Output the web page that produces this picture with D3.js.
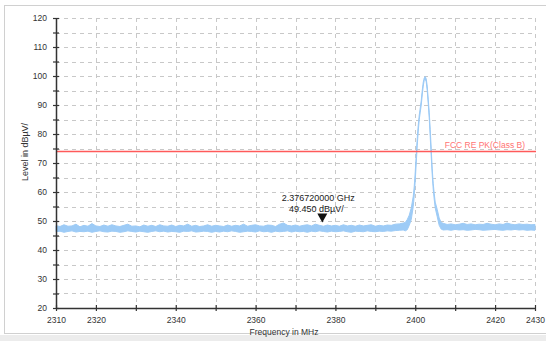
<!DOCTYPE html>
<html>
<head>
<meta charset="utf-8">
<script src="https://cdn.jsdelivr.net/npm/d3@7"></script>
<style>
  html, body { margin: 0; padding: 0; background: #ffffff; }
  svg { display: block; font-family: "Liberation Sans", Arial, sans-serif; }
</style>
</head>
<body>
<svg id="chart" width="546" height="341"></svg>
<script>
// ---- data ----
const xTickValues = [2310, 2320, 2330, 2340, 2350, 2360, 2370, 2380, 2390, 2400, 2410, 2420, 2430];
const xTickLabels = ["2310", "2320", "", "2340", "", "2360", "", "2380", "", "2400", "", "2420", "2430"];
const yTickValues = [20, 25, 30, 35, 40, 45, 50, 55, 60, 65, 70, 75, 80, 85, 90, 95, 100, 105, 110, 115, 120];
const yTickLabels = ["20", "", "30", "", "40", "", "50", "", "60", "", "70", "", "80", "", "90", "", "100", "", "110", "", "120"];

// noise floor, 1 MHz steps 2310..2397
const floorFreq = d3.range(2310, 2398, 1);
const floorMax = [48.4,48.1,48.7,48.2,48.3,48.9,48.0,48.5,48.2,49.1,48.3,48.1,48.6,48.2,48.7,48.3,48.1,48.5,48.9,48.2,
                  48.3,48.0,48.6,48.2,48.5,48.1,48.7,48.3,48.2,48.6,48.1,48.5,48.3,48.9,48.2,48.5,48.1,48.3,48.7,48.2,
                  48.5,48.3,48.1,48.6,48.2,48.5,48.3,48.9,48.2,48.5,48.7,48.3,48.2,48.6,48.5,48.1,48.9,49.3,48.5,48.3,
                  48.6,48.2,48.5,48.7,48.3,48.9,48.5,48.2,48.6,48.3,48.5,48.2,48.7,48.3,48.5,48.2,48.6,48.3,48.5,48.7,
                  48.2,48.5,48.3,48.6,48.5,48.9,49.0,49.3];
const floorMin = [46.3,46.5,46.1,46.4,46.6,46.2,46.4,46.3,46.5,46.1,46.4,46.6,46.3,46.2,46.5,46.4,46.1,46.3,46.6,46.4,
                  46.2,46.5,46.3,46.1,46.4,46.6,46.3,46.5,46.2,46.4,46.3,46.1,46.5,46.4,46.6,46.2,46.3,46.5,46.4,46.1,
                  46.4,46.2,46.5,46.3,46.6,46.4,46.1,46.3,46.5,46.4,46.2,46.6,46.3,46.4,46.1,46.5,46.3,46.4,46.6,46.2,
                  46.5,46.3,46.4,46.1,46.5,46.3,46.6,46.4,46.2,46.5,46.3,46.4,46.6,46.3,46.1,46.5,46.4,46.3,46.6,46.4,
                  46.3,46.5,46.4,46.6,46.5,46.7,46.8,46.9];

// carrier peak region
const peakFreq = [2397.5, 2398, 2398.5, 2399, 2399.5, 2399.75, 2400, 2400.25, 2400.5, 2400.75, 2401, 2401.25, 2401.5, 2401.75,
                  2402, 2402.25, 2402.5, 2402.75, 2403, 2403.25, 2403.5, 2403.75, 2404, 2404.25, 2404.5, 2404.75, 2405, 2405.5, 2406, 2406.5];
const peakMax = [49.5, 50.5, 52, 54.5, 58.5, 62, 67, 73, 78.5, 83, 86.5, 89, 91.5, 95,
                 97.8, 99.3, 99.8, 99, 96.5, 92, 87.5, 81.5, 75, 68, 63, 59.5, 56.5, 54, 51, 49.5];
const peakMin = [46.6, 47, 48.5, 50.5, 55, 59, 64, 70, 76, 81, 85, 87.5, 90, 93.5,
                 96.5, 98.5, 99, 98, 95, 90.5, 85.5, 79, 72.5, 66, 61, 57.5, 54.5, 51.5, 48.5, 47.2];

// upper floor, 1 MHz steps 2407..2430
const upperFreq = d3.range(2407, 2431, 1);
const upperMax = [49.2,48.8,49.0,48.7,48.9,49.2,48.8,49.0,48.7,48.9,48.8,49.2,48.9,48.7,49.0,48.8,49.3,48.9,48.7,49.0,48.8,48.9,48.7,48.8];
const upperMin = [46.9,47.0,46.8,47.1,46.9,47.0,46.8,46.9,47.1,47.0,46.8,46.9,47.0,47.1,46.9,46.8,47.0,46.9,47.1,46.9,47.0,46.8,46.9,46.8];

const limitLevel = 74;
const limitLabel = "FCC RE PK(Class B)";
const markerFreq = 2376.72;
const markerLevel = 49.45;
const markerText1 = "2.376720000 GHz";
const markerText2 = "49.450 dBµV/";
const xTitle = "Frequency in MHz";
const yTitle = "Level in dBµV/";

// ---- build ----
const trace = [];
floorFreq.forEach((f, i) => trace.push({f, hi: floorMax[i], lo: floorMin[i]}));
peakFreq.forEach((f, i) => trace.push({f, hi: peakMax[i], lo: peakMin[i]}));
upperFreq.forEach((f, i) => trace.push({f, hi: upperMax[i], lo: upperMin[i]}));

const svg = d3.select("#chart");
const W = 546, H = 341;

// outer frame
svg.append("rect").attr("x", 0).attr("y", 335).attr("width", W).attr("height", H - 335).attr("fill", "#ececec");
svg.append("rect").attr("x", 4.5).attr("y", 5.5).attr("width", 560).attr("height", 328)
  .attr("fill", "#ffffff").attr("stroke", "#d0d0d0").attr("stroke-width", 1);

const x = d3.scaleLinear().domain([2310, 2430]).range([56, 535]);
const y = d3.scaleLinear().domain([20, 120]).range([308, 18]);

// grid
const g = svg.append("g");
g.selectAll("line.hg").data(yTickValues.filter(v => v > 20)).join("line")
  .attr("x1", x(2310)).attr("x2", x(2430))
  .attr("y1", d => Math.round(y(d)) + 0.5).attr("y2", d => Math.round(y(d)) + 0.5)
  .attr("stroke", "#c8c8c8").attr("stroke-width", 1).attr("stroke-dasharray", "4,4");
g.selectAll("line.vg").data(xTickValues.filter(v => v > 2310)).join("line")
  .attr("x1", d => Math.round(x(d)) + 0.5).attr("x2", d => Math.round(x(d)) + 0.5)
  .attr("y1", y(120)).attr("y2", y(20))
  .attr("stroke", "#c8c8c8").attr("stroke-width", 1).attr("stroke-dasharray", "4,4");

// trace
const area = d3.area().x(d => x(d.f)).y0(d => y(d.lo)).y1(d => y(d.hi));
svg.append("path").datum(trace).attr("d", area)
  .attr("fill", "#9dcbf6").attr("stroke", "#9dcbf6").attr("stroke-width", 1).attr("stroke-linejoin", "round");

// limit line
svg.append("line").attr("x1", x(2310)).attr("x2", x(2430) + 1)
  .attr("y1", y(limitLevel)).attr("y2", y(limitLevel))
  .attr("stroke", "#ff5a5a").attr("stroke-width", 1.5);
svg.append("text").attr("x", x(2430) - 10).attr("y", y(limitLevel) - 3)
  .attr("text-anchor", "end").attr("font-size", 8.5).attr("fill", "#ff7373").text(limitLabel);

// axes
const xAxis = d3.axisBottom(x).tickValues(xTickValues).tickSizeInner(3).tickSizeOuter(0)
  .tickFormat((d, i) => xTickLabels[i]).tickPadding(6);
const gx = svg.append("g").attr("transform", `translate(0,${y(20)})`).call(xAxis);
gx.select(".domain").attr("stroke", "#333").attr("stroke-width", 1.5);
gx.selectAll(".tick line").attr("y1", -3).attr("y2", 3).attr("stroke", "#333").attr("stroke-width", 1.2);
gx.selectAll(".tick text").attr("font-size", 8.5).attr("fill", "#333").attr("font-family", "Liberation Sans, Arial, sans-serif");

const yAxis = d3.axisLeft(y).tickValues(yTickValues).tickSizeInner(3).tickSizeOuter(0)
  .tickFormat((d, i) => yTickLabels[i]).tickPadding(6);
const gy = svg.append("g").attr("transform", `translate(${x(2310)},0)`).call(yAxis);
gy.select(".domain").attr("stroke", "#333").attr("stroke-width", 1.5);
gy.selectAll(".tick line").attr("x1", -3).attr("x2", 3).attr("stroke", "#333").attr("stroke-width", 1.2);
gy.selectAll(".tick text").attr("font-size", 8.5).attr("fill", "#333").attr("font-family", "Liberation Sans, Arial, sans-serif");

// titles
svg.append("text").attr("x", 284).attr("y", 335).attr("text-anchor", "middle")
  .attr("font-size", 8.5).attr("fill", "#333").text(xTitle);
svg.append("text").attr("transform", "translate(28,152) rotate(-90)").attr("text-anchor", "middle")
  .attr("font-size", 9).attr("fill", "#333").text(yTitle);

// marker
const mx = x(markerFreq), my = y(markerLevel);
svg.append("path").attr("d", `M${mx - 5},${my - 9}L${mx + 5},${my - 9}L${mx},${my}Z`).attr("fill", "#111");
svg.append("text").attr("x", mx - 4).attr("y", my - 22).attr("text-anchor", "middle")
  .attr("font-size", 9).attr("fill", "#222").text(markerText1);
svg.append("text").attr("x", mx - 6).attr("y", my - 11).attr("text-anchor", "middle")
  .attr("font-size", 9).attr("fill", "#222").text(markerText2);
</script>
</body>
</html>
